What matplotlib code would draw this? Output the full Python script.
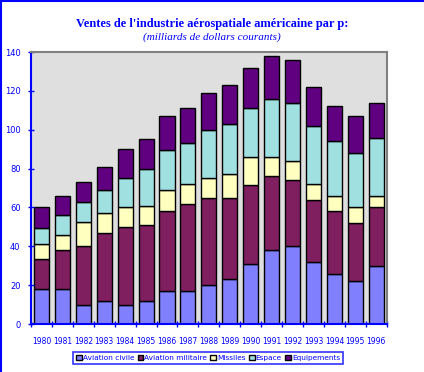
import matplotlib
matplotlib.use("Agg")
import matplotlib.pyplot as plt
import numpy as np

years = ["1980", "1981", "1982", "1983", "1984", "1985", "1986", "1987", "1988",
         "1989", "1990", "1991", "1992", "1993", "1994", "1995", "1996"]

# milliards de dollars courants
aviation_civile = [18, 18, 10, 12, 10, 12, 17, 17, 20, 23, 31, 38, 40, 32, 26, 22, 30]
aviation_militaire = [15.3, 20, 30, 35, 40, 39, 41, 45, 45, 42, 40.5, 38, 34, 32, 32, 30, 30]
missiles = [7.7, 8, 12.3, 10, 10, 10, 11, 10, 10, 12, 14.5, 10, 10, 8, 8, 8, 6]
espace = [8.6, 10, 10.7, 12, 15, 19, 20.4, 21, 25, 26, 25, 29.6, 30, 30, 28, 28, 30]
equipements = [10.4, 10, 10, 12, 15, 15, 17.6, 18, 19, 20, 21, 22.4, 22, 20, 18, 19, 18]

series = [
    ("Aviation civile", aviation_civile, "#8080ff"),
    ("Aviation militaire", aviation_militaire, "#7f1f5f"),
    ("Missiles", missiles, "#ffffc0"),
    ("Espace", espace, "#a0e0e0"),
    ("Equipements", equipements, "#600080"),
]

blue = "#0000ff"

fig = plt.figure(figsize=(4.24, 3.72), dpi=100)
ax = fig.add_axes([0.0731, 0.129, 0.839, 0.731])
ax.set_facecolor("#dfdfdf")

x = np.arange(len(years))
bottom = np.zeros(len(years))
for name, vals, col in series:
    ax.bar(x, vals, 0.72, bottom=bottom, color=col, edgecolor="black",
           linewidth=1.0, label=name)
    bottom += np.array(vals)

ax.set_xlim(-0.5, len(years) - 0.5)
ax.set_ylim(0, 140)
ax.set_yticks(range(0, 141, 20))
ax.set_xticks(x)
ax.set_xticklabels(years)
ax.set_xticks(np.arange(-0.5, len(years), 1.0), minor=True)

ax.tick_params(axis="x", which="major", length=0, pad=9, labelsize=5.5, labelcolor=blue)
ax.tick_params(axis="x", which="minor", direction="inout", length=5, color=blue, width=1)
ax.tick_params(axis="y", direction="inout", length=5, color=blue, width=1,
               labelsize=6, labelcolor=blue, pad=5)

ax.spines["left"].set_color(blue)
ax.spines["bottom"].set_color(blue)
ax.spines["top"].set_color("#808080")
ax.spines["right"].set_color("#808080")
for s in ax.spines.values():
    s.set_linewidth(1.5)

fig.text(0.5, 1 - 24 / 372, "Ventes de l'industrie aérospatiale américaine par p:",
         ha="center", va="center", color=blue, fontsize=8.9, fontweight="bold",
         family="Liberation Serif")
fig.text(0.5, 1 - 37 / 372, "(milliards de dollars courants)",
         ha="center", va="center", color=blue, fontsize=8, style="italic",
         family="Liberation Serif")

leg = fig.legend(loc="center", bbox_to_anchor=(208 / 424, 1 - 358 / 372), ncol=5,
                 fontsize=5.3, frameon=True, fancybox=False, handlelength=0.8,
                 handleheight=0.8, handletextpad=0.15, columnspacing=0.4,
                 borderpad=0.35, borderaxespad=0)
leg.get_frame().set_edgecolor(blue)
leg.get_frame().set_linewidth(1.2)
for t in leg.get_texts():
    t.set_color(blue)

# blue border on the top and left of the picture
fig.add_artist(plt.Line2D([0, 1], [0.998, 0.998], color=blue, linewidth=1.5,
                          transform=fig.transFigure))
fig.add_artist(plt.Line2D([0.002, 0.002], [0, 1], color=blue, linewidth=1.5,
                          transform=fig.transFigure))

fig.savefig("out.png", dpi=100)
